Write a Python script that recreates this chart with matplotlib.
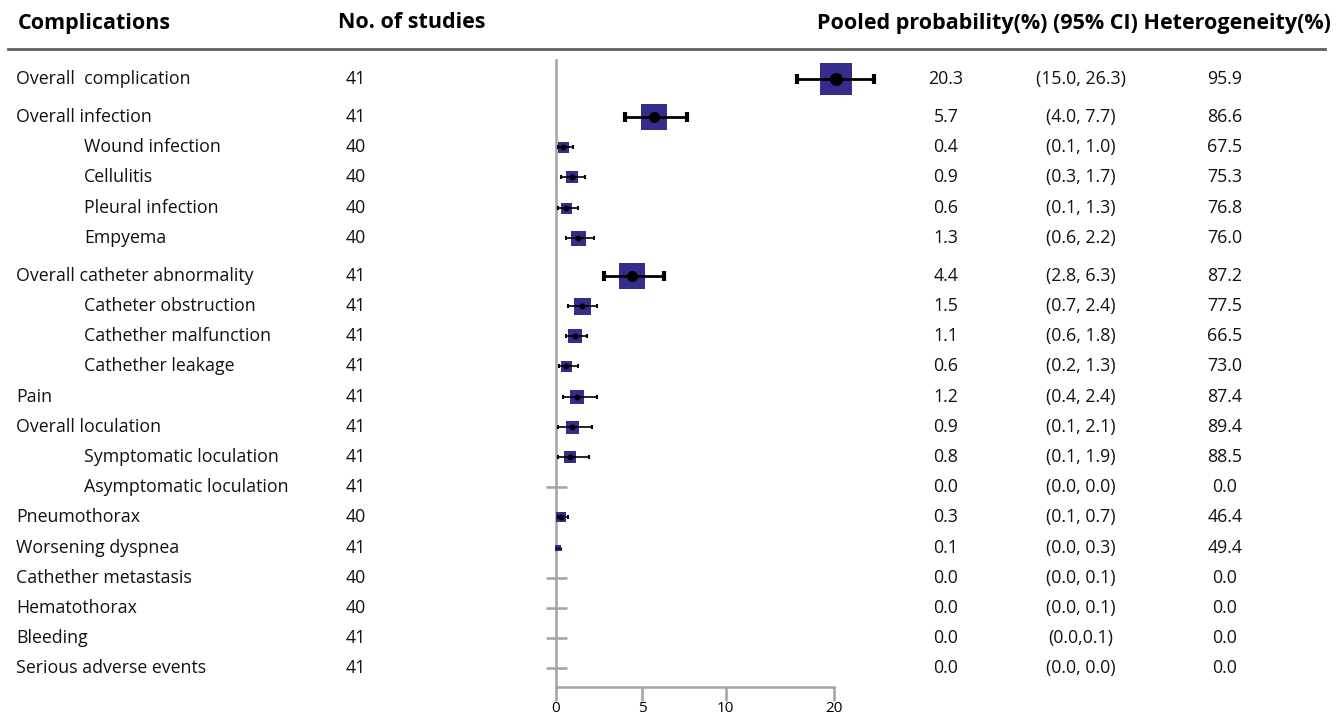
import matplotlib
matplotlib.use('Agg')
import matplotlib.pyplot as plt
import numpy as np

# data
complications = ['Overall  complication', 'Overall infection', 'Wound infection', 'Cellulitis',
                 'Pleural infection', 'Empyema', 'Overall catheter abnormality', 'Catheter obstruction',
                 'Cathether malfunction', 'Cathether leakage', 'Pain', 'Overall loculation',
                 'Symptomatic loculation', 'Asymptomatic loculation', 'Pneumothorax', 'Worsening dyspnea',
                 'Cathether metastasis', 'Hematothorax', 'Bleeding', 'Serious adverse events']
indented = [False, False, True, True, True, True, False, True, True, True,
            False, False, True, True, False, False, False, False, False, False]
n_studies = [41, 41, 40, 40, 40, 40, 41, 41, 41, 41, 41, 41, 41, 41, 40, 41, 40, 40, 41, 41]
pooled = [20.3, 5.7, 0.4, 0.9, 0.6, 1.3, 4.4, 1.5, 1.1, 0.6, 1.2, 0.9, 0.8, 0.0, 0.3, 0.1, 0.0, 0.0, 0.0, 0.0]
ci_low = [15.0, 4.0, 0.1, 0.3, 0.1, 0.6, 2.8, 0.7, 0.6, 0.2, 0.4, 0.1, 0.1, 0.0, 0.1, 0.0, 0.0, 0.0, 0.0, 0.0]
ci_high = [26.3, 7.7, 1.0, 1.7, 1.3, 2.2, 6.3, 2.4, 1.8, 1.3, 2.4, 2.1, 1.9, 0.0, 0.7, 0.3, 0.1, 0.1, 0.1, 0.0]
ci_text = ['(15.0, 26.3)', '(4.0, 7.7)', '(0.1, 1.0)', '(0.3, 1.7)', '(0.1, 1.3)', '(0.6, 2.2)',
           '(2.8, 6.3)', '(0.7, 2.4)', '(0.6, 1.8)', '(0.2, 1.3)', '(0.4, 2.4)', '(0.1, 2.1)',
           '(0.1, 1.9)', '(0.0, 0.0)', '(0.1, 0.7)', '(0.0, 0.3)', '(0.0, 0.1)', '(0.0, 0.1)',
           '(0.0,0.1)', '(0.0, 0.0)']
heterogeneity = [95.9, 86.6, 67.5, 75.3, 76.8, 76.0, 87.2, 77.5, 66.5, 73.0, 87.4, 89.4, 88.5, 0.0,
                 46.4, 49.4, 0.0, 0.0, 0.0, 0.0]
x_ticks = [0, 5, 10, 20]

# style: box side (px) per row, as drawn in the original
box_px = [32, 26, 11, 12, 11, 15, 27, 17, 14, 11, 14, 13, 12, 0, 10, 6, 0, 0, 0, 0]

BOX = '#352D8C'
GREY = '#A3A3A3'
FONT = 'Open Sans'
W, H = 1338, 714
PX = 72 / 100  # points per pixel

# the x axis of the original is not linear: pixel offsets
scale_vals = [0, 5, 10, 15, 20, 40]
scale_px = [0, 86, 169, 240, 277, 404]


def fwd(x):
    return np.interp(x, scale_vals, scale_px)


def inv(p):
    return np.interp(p, scale_px, scale_vals)


fig = plt.figure(figsize=(W / 100, H / 100), dpi=100)

# text layer in pixel coordinates
tax = fig.add_axes([0, 0, 1, 1])
tax.set_xlim(0, W)
tax.set_ylim(H, 0)
tax.axis('off')

# row positions (pixels), with wider gaps before group headers
row_y = []
y = 79.0
for i, name in enumerate(complications):
    if i > 0:
        y += 38 if name in ('Overall infection', 'Overall catheter abnormality') else 30.2
    row_y.append(y)

hdr = dict(fontsize=15.5, fontweight='bold', family=FONT, va='center')
tax.text(18, 23, 'Complications', ha='left', **hdr)
tax.text(338, 23, 'No. of studies', ha='left', **hdr)
tax.text(1331, 23, 'Pooled probability(%) (95% CI) Heterogeneity(%)', ha='right', **hdr)
tax.plot([8, 1325], [49, 49], color='#5f5f5f', lw=2)

txt = dict(fontsize=12.8, family=FONT, va='center', color='#111111')
for i, name in enumerate(complications):
    yy = row_y[i]
    tax.text(84 if indented[i] else 16, yy, name, ha='left', **txt)
    tax.text(346, yy, str(n_studies[i]), ha='left', **txt)
    tax.text(946, yy, f'{pooled[i]:.1f}', ha='center', **txt)
    tax.text(1081, yy, ci_text[i], ha='center', **txt)
    tax.text(1225, yy, f'{heterogeneity[i]:.1f}', ha='center', **txt)

# forest plot axes
x0, x1 = 556, 834
ybot, ytop = 687, 60
ax = fig.add_axes([x0 / W, (H - ybot) / H, (x1 - x0) / W, (ybot - ytop) / H])
ax.set_xscale('function', functions=(fwd, inv))
ax.set_xlim(0, 20)
ax.set_ylim(ybot, ytop)
ax.patch.set_alpha(0)
for s in ('top', 'right'):
    ax.spines[s].set_visible(False)
for s in ('left', 'bottom'):
    ax.spines[s].set_color(GREY)
    ax.spines[s].set_linewidth(1.8)
ax.set_yticks([])
ax.set_xticks(x_ticks)
ax.set_xticklabels([str(t) for t in x_ticks])
ax.tick_params(axis='x', length=10, width=1.8, color=GREY, pad=0, labelsize=11)
for lab in ax.get_xticklabels():
    lab.set_family(FONT)

for i in range(len(complications)):
    yy = row_y[i]
    if pooled[i] == 0:
        ax.plot([0], [yy], marker='_', ms=21 * PX, mew=1.8, color=GREY, clip_on=False)
        continue
    big = box_px[i] >= 20
    tiny = box_px[i] < 8
    ax.plot([pooled[i]], [yy], marker='s', ms=box_px[i] * PX, mew=0, color=BOX,
            clip_on=False, zorder=3)
    ax.plot([ci_low[i], ci_high[i]], [yy, yy], color='black',
            lw=2.0 if big else (0.6 if tiny else 1.2), clip_on=False, zorder=4)
    for xc in (ci_low[i], ci_high[i]):
        ax.plot([xc], [yy], marker='|', ms=(10 if big else (3 if tiny else 5)) * PX,
                mew=3 if big else (0.8 if tiny else 1.5), color='black', clip_on=False, zorder=4)
    dot = 13 if box_px[i] >= 30 else (11 if big else (6 if box_px[i] > 8 else 2))
    ax.plot([pooled[i]], [yy], marker='o', ms=dot * PX, mew=0, color='black',
            clip_on=False, zorder=5)

fig.savefig('out.png', dpi=100)
